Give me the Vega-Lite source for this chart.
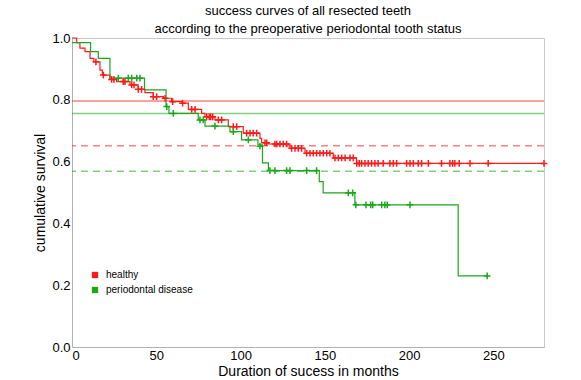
{
  "$schema": "https://vega.github.io/schema/vega-lite/v6.json",
  "autosize": {"type": "none"},
  "padding": {"left": 72, "top": 38, "right": 37, "bottom": 33},
  "width": 472,
  "height": 309,
  "background": "white",
  "config": {
    "font": "Liberation Sans",
    "view": {"stroke": "#c8c8c8", "strokeWidth": 1},
    "axis": {"labelFont": "Liberation Sans", "titleFont": "Liberation Sans", "labelColor": "black", "titleColor": "black", "domainColor": "#b0b0b0", "grid": false, "ticks": false, "labelFontSize": 13, "titleFontSize": 14, "titleFontWeight": "normal"}
  },
  "title": {"text": ["success curves of all resected teeth", "according to the preoperative periodontal tooth status"], "fontSize": 13, "fontWeight": "normal", "lineHeight": 18, "offset": -4, "anchor": "middle", "frame": "group", "color": "black"},
  "datasets": {
    "curve": [
      {"group": "healthy", "month": 0, "surv": 1.0},
      {"group": "healthy", "month": 2.8, "surv": 0.985},
      {"group": "healthy", "month": 4.7, "surv": 0.967},
      {"group": "healthy", "month": 7.7, "surv": 0.956},
      {"group": "healthy", "month": 10.7, "surv": 0.934},
      {"group": "healthy", "month": 13, "surv": 0.923},
      {"group": "healthy", "month": 16.6, "surv": 0.896},
      {"group": "healthy", "month": 18, "surv": 0.88},
      {"group": "healthy", "month": 22.5, "surv": 0.866},
      {"group": "healthy", "month": 26.5, "surv": 0.859},
      {"group": "healthy", "month": 34.4, "surv": 0.848},
      {"group": "healthy", "month": 39.3, "surv": 0.834},
      {"group": "healthy", "month": 43.3, "surv": 0.823},
      {"group": "healthy", "month": 48.2, "surv": 0.81},
      {"group": "healthy", "month": 54.2, "surv": 0.805},
      {"group": "healthy", "month": 59.1, "surv": 0.794},
      {"group": "healthy", "month": 65.1, "surv": 0.789},
      {"group": "healthy", "month": 69, "surv": 0.769},
      {"group": "healthy", "month": 76.9, "surv": 0.756},
      {"group": "healthy", "month": 78.9, "surv": 0.745},
      {"group": "healthy", "month": 84.8, "surv": 0.735},
      {"group": "healthy", "month": 92.7, "surv": 0.713},
      {"group": "healthy", "month": 101.6, "surv": 0.692},
      {"group": "healthy", "month": 111.5, "surv": 0.675},
      {"group": "healthy", "month": 112.5, "surv": 0.661},
      {"group": "healthy", "month": 116.5, "surv": 0.657},
      {"group": "healthy", "month": 129.3, "surv": 0.643},
      {"group": "healthy", "month": 138.2, "surv": 0.627},
      {"group": "healthy", "month": 155, "surv": 0.612},
      {"group": "healthy", "month": 168.8, "surv": 0.594},
      {"group": "healthy", "month": 280, "surv": 0.594},
      {"group": "periodontal disease", "month": 0, "surv": 0.985},
      {"group": "periodontal disease", "month": 11, "surv": 0.956},
      {"group": "periodontal disease", "month": 15.6, "surv": 0.934},
      {"group": "periodontal disease", "month": 22.5, "surv": 0.87},
      {"group": "periodontal disease", "month": 43, "surv": 0.832},
      {"group": "periodontal disease", "month": 55.8, "surv": 0.778},
      {"group": "periodontal disease", "month": 57.5, "surv": 0.756},
      {"group": "periodontal disease", "month": 74.9, "surv": 0.735},
      {"group": "periodontal disease", "month": 78.9, "surv": 0.715},
      {"group": "periodontal disease", "month": 93.7, "surv": 0.697},
      {"group": "periodontal disease", "month": 100.6, "surv": 0.67},
      {"group": "periodontal disease", "month": 110.3, "surv": 0.654},
      {"group": "periodontal disease", "month": 113, "surv": 0.596},
      {"group": "periodontal disease", "month": 116.5, "surv": 0.571},
      {"group": "periodontal disease", "month": 146.7, "surv": 0.535},
      {"group": "periodontal disease", "month": 149, "surv": 0.499},
      {"group": "periodontal disease", "month": 167.8, "surv": 0.46},
      {"group": "periodontal disease", "month": 229.1, "surv": 0.23},
      {"group": "periodontal disease", "month": 246.3, "surv": 0.23}
    ],
    "censor": [
      {"group": "healthy", "month": 14.2, "surv": 0.923},
      {"group": "healthy", "month": 18.6, "surv": 0.88},
      {"group": "healthy", "month": 23.5, "surv": 0.866},
      {"group": "healthy", "month": 24.9, "surv": 0.866},
      {"group": "healthy", "month": 30.4, "surv": 0.859},
      {"group": "healthy", "month": 31.4, "surv": 0.859},
      {"group": "healthy", "month": 35.4, "surv": 0.848},
      {"group": "healthy", "month": 36.8, "surv": 0.848},
      {"group": "healthy", "month": 39.3, "surv": 0.834},
      {"group": "healthy", "month": 41.3, "surv": 0.834},
      {"group": "healthy", "month": 48.2, "surv": 0.81},
      {"group": "healthy", "month": 50.2, "surv": 0.81},
      {"group": "healthy", "month": 55.2, "surv": 0.805},
      {"group": "healthy", "month": 59.7, "surv": 0.794},
      {"group": "healthy", "month": 65.6, "surv": 0.789},
      {"group": "healthy", "month": 71, "surv": 0.769},
      {"group": "healthy", "month": 73, "surv": 0.769},
      {"group": "healthy", "month": 79.9, "surv": 0.745},
      {"group": "healthy", "month": 81.4, "surv": 0.745},
      {"group": "healthy", "month": 82.3, "surv": 0.745},
      {"group": "healthy", "month": 83.5, "surv": 0.745},
      {"group": "healthy", "month": 86.8, "surv": 0.735},
      {"group": "healthy", "month": 88.8, "surv": 0.735},
      {"group": "healthy", "month": 95.7, "surv": 0.713},
      {"group": "healthy", "month": 97.7, "surv": 0.713},
      {"group": "healthy", "month": 103.6, "surv": 0.692},
      {"group": "healthy", "month": 105.6, "surv": 0.692},
      {"group": "healthy", "month": 107.5, "surv": 0.692},
      {"group": "healthy", "month": 109.5, "surv": 0.692},
      {"group": "healthy", "month": 114.5, "surv": 0.661},
      {"group": "healthy", "month": 115.5, "surv": 0.661},
      {"group": "healthy", "month": 120.4, "surv": 0.657},
      {"group": "healthy", "month": 121.4, "surv": 0.657},
      {"group": "healthy", "month": 123.4, "surv": 0.657},
      {"group": "healthy", "month": 125.3, "surv": 0.657},
      {"group": "healthy", "month": 127.3, "surv": 0.657},
      {"group": "healthy", "month": 130.3, "surv": 0.643},
      {"group": "healthy", "month": 132.3, "surv": 0.643},
      {"group": "healthy", "month": 134.2, "surv": 0.643},
      {"group": "healthy", "month": 136.2, "surv": 0.643},
      {"group": "healthy", "month": 139.2, "surv": 0.627},
      {"group": "healthy", "month": 141.2, "surv": 0.627},
      {"group": "healthy", "month": 143.1, "surv": 0.627},
      {"group": "healthy", "month": 145.1, "surv": 0.627},
      {"group": "healthy", "month": 147.1, "surv": 0.627},
      {"group": "healthy", "month": 149.1, "surv": 0.627},
      {"group": "healthy", "month": 151.1, "surv": 0.627},
      {"group": "healthy", "month": 153, "surv": 0.627},
      {"group": "healthy", "month": 156, "surv": 0.612},
      {"group": "healthy", "month": 158, "surv": 0.612},
      {"group": "healthy", "month": 160, "surv": 0.612},
      {"group": "healthy", "month": 162, "surv": 0.612},
      {"group": "healthy", "month": 164.9, "surv": 0.612},
      {"group": "healthy", "month": 166.8, "surv": 0.612},
      {"group": "healthy", "month": 168.9, "surv": 0.594},
      {"group": "healthy", "month": 170.4, "surv": 0.594},
      {"group": "healthy", "month": 171.8, "surv": 0.594},
      {"group": "healthy", "month": 173.8, "surv": 0.594},
      {"group": "healthy", "month": 175.7, "surv": 0.594},
      {"group": "healthy", "month": 177.7, "surv": 0.594},
      {"group": "healthy", "month": 179.7, "surv": 0.594},
      {"group": "healthy", "month": 181.6, "surv": 0.594},
      {"group": "healthy", "month": 184.6, "surv": 0.594},
      {"group": "healthy", "month": 188.6, "surv": 0.594},
      {"group": "healthy", "month": 190.6, "surv": 0.594},
      {"group": "healthy", "month": 192.6, "surv": 0.594},
      {"group": "healthy", "month": 198.5, "surv": 0.594},
      {"group": "healthy", "month": 200.5, "surv": 0.594},
      {"group": "healthy", "month": 202.5, "surv": 0.594},
      {"group": "healthy", "month": 205.4, "surv": 0.594},
      {"group": "healthy", "month": 207.4, "surv": 0.594},
      {"group": "healthy", "month": 211.4, "surv": 0.594},
      {"group": "healthy", "month": 219.2, "surv": 0.594},
      {"group": "healthy", "month": 224.2, "surv": 0.594},
      {"group": "healthy", "month": 225.8, "surv": 0.594},
      {"group": "healthy", "month": 227.1, "surv": 0.594},
      {"group": "healthy", "month": 229.7, "surv": 0.594},
      {"group": "healthy", "month": 236.1, "surv": 0.594},
      {"group": "healthy", "month": 246.9, "surv": 0.594},
      {"group": "healthy", "month": 280, "surv": 0.594},
      {"group": "periodontal disease", "month": 27.5, "surv": 0.87},
      {"group": "periodontal disease", "month": 33.4, "surv": 0.87},
      {"group": "periodontal disease", "month": 35.4, "surv": 0.87},
      {"group": "periodontal disease", "month": 38.4, "surv": 0.87},
      {"group": "periodontal disease", "month": 40.3, "surv": 0.87},
      {"group": "periodontal disease", "month": 56.2, "surv": 0.778},
      {"group": "periodontal disease", "month": 60.1, "surv": 0.756},
      {"group": "periodontal disease", "month": 75.9, "surv": 0.735},
      {"group": "periodontal disease", "month": 77.9, "surv": 0.735},
      {"group": "periodontal disease", "month": 84.8, "surv": 0.715},
      {"group": "periodontal disease", "month": 95.7, "surv": 0.697},
      {"group": "periodontal disease", "month": 104.6, "surv": 0.67},
      {"group": "periodontal disease", "month": 111.5, "surv": 0.65},
      {"group": "periodontal disease", "month": 117.4, "surv": 0.571},
      {"group": "periodontal disease", "month": 120.4, "surv": 0.571},
      {"group": "periodontal disease", "month": 127.3, "surv": 0.571},
      {"group": "periodontal disease", "month": 129.3, "surv": 0.571},
      {"group": "periodontal disease", "month": 139.2, "surv": 0.571},
      {"group": "periodontal disease", "month": 145.1, "surv": 0.571},
      {"group": "periodontal disease", "month": 163.9, "surv": 0.499},
      {"group": "periodontal disease", "month": 166.5, "surv": 0.499},
      {"group": "periodontal disease", "month": 168.4, "surv": 0.46},
      {"group": "periodontal disease", "month": 174.4, "surv": 0.46},
      {"group": "periodontal disease", "month": 177.2, "surv": 0.46},
      {"group": "periodontal disease", "month": 178.4, "surv": 0.46},
      {"group": "periodontal disease", "month": 183.7, "surv": 0.46},
      {"group": "periodontal disease", "month": 185.6, "surv": 0.46},
      {"group": "periodontal disease", "month": 187, "surv": 0.46},
      {"group": "periodontal disease", "month": 200.5, "surv": 0.46},
      {"group": "periodontal disease", "month": 246.3, "surv": 0.23}
    ],
    "ref": [
      {"group": "healthy", "kind": "solid", "surv": 0.796},
      {"group": "periodontal disease", "kind": "solid", "surv": 0.756},
      {"group": "healthy", "kind": "dashed", "surv": 0.651},
      {"group": "periodontal disease", "kind": "dashed", "surv": 0.569}
    ]
  },
  "layer": [
    {
      "data": {"name": "ref"},
      "mark": {"type": "rule", "strokeWidth": 1.5, "opacity": 0.55},
      "encoding": {
        "y": {"field": "surv", "type": "quantitative", "scale": {"domain": [0, 1]}},
        "color": {"field": "group", "type": "nominal"},
        "strokeDash": {"field": "kind", "type": "nominal", "scale": {"domain": ["solid", "dashed"], "range": [[1, 0], [7, 5]]}, "legend": null}
      }
    },
    {
      "data": {"name": "curve"},
      "mark": {"type": "line", "interpolate": "step-after", "strokeWidth": 1.2},
      "encoding": {
        "x": {"field": "month", "type": "quantitative", "scale": {"domain": [0, 280], "nice": false}, "axis": {"values": [0, 50, 100, 150, 200, 250], "title": "Duration of sucess in months", "labelPadding": 2, "titlePadding": 2}},
        "y": {"field": "surv", "type": "quantitative", "scale": {"domain": [0, 1], "nice": false}, "axis": {"values": [0, 0.2, 0.4, 0.6, 0.8, 1.0], "format": ".1f", "title": "cumulative survival", "labelPadding": 2, "titlePadding": 4}},
        "color": {"field": "group", "type": "nominal", "scale": {"domain": ["healthy", "periodontal disease"], "range": ["#ff1a1a", "#1aa81a"]},
          "legend": {"title": null, "orient": "none", "legendX": 18, "legendY": 232, "symbolType": "square", "symbolSize": 40, "symbolStrokeWidth": 0, "labelFontSize": 10, "labelColor": "black", "rowPadding": 5, "labelOffset": 6,
            "encode": {"symbols": {"update": {"fill": {"scale": "color", "field": "value"}, "strokeWidth": {"value": 0}}}}}}
      }
    },
    {
      "data": {"name": "censor"},
      "mark": {"type": "point", "shape": "M-1,0H1M0,-1V1", "filled": false, "size": 45, "strokeWidth": 1.5, "opacity": 1},
      "encoding": {
        "x": {"field": "month", "type": "quantitative"},
        "y": {"field": "surv", "type": "quantitative"},
        "color": {"field": "group", "type": "nominal"}
      }
    }
  ]
}
